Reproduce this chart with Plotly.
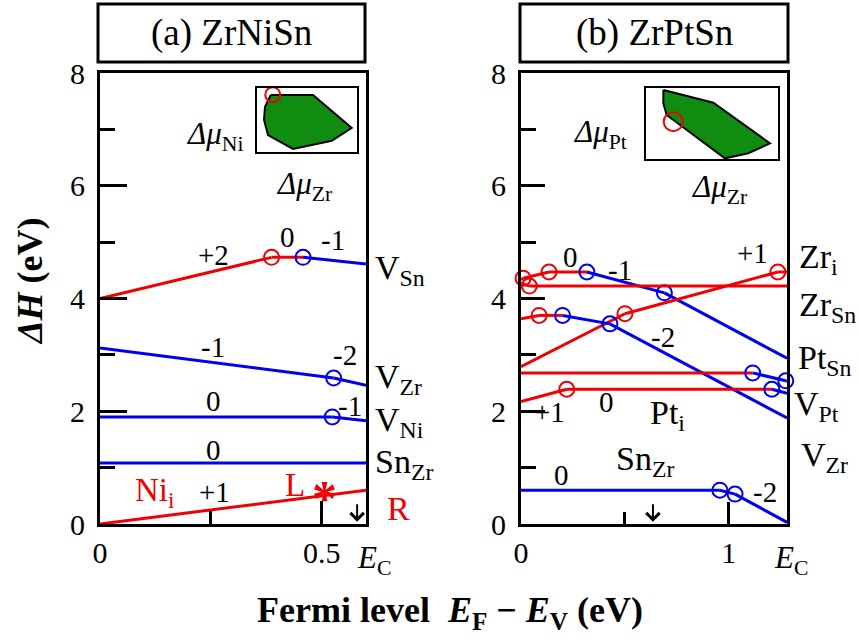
import plotly.graph_objects as go

RED = "rgb(240,0,0)"
BLUE = "rgb(0,0,240)"
GREEN = "rgb(16,140,16)"
SERIF = "Liberation Serif, Times New Roman, DejaVu Serif, serif"
COL = {"r": RED, "b": BLUE}

# ---------------- (a) ZrNiSn : formation energies vs Fermi level ----------------
a_xmax = 0.60
a_vsn_x = [0.0, 0.387, 0.458, 0.60]
a_vsn_y = [4.00, 4.73, 4.73, 4.61]
a_vsn_c = ["r", "r", "b"]
a_vzr_x = [0.0, 0.527, 0.60]
a_vzr_y = [3.12, 2.59, 2.46]
a_vzr_c = ["b", "b"]
a_vni_x = [0.0, 0.524, 0.60]
a_vni_y = [1.90, 1.90, 1.83]
a_vni_c = ["b", "b"]
a_snzr_x = [0.0, 0.60]
a_snzr_y = [1.08, 1.08]
a_snzr_c = ["b"]
a_nii_x = [0.0, 0.60]
a_nii_y = [0.00, 0.60]
a_nii_c = ["r"]
a_R_x = [0.62]
a_R_y = [0.61]
a_arrow_x = 0.58

# ---------------- (b) ZrPtSn ----------------
b_xmax = 1.28
b_ptsn_x = [0.0, 0.010, 0.135, 0.317, 0.690, 1.28]
b_ptsn_y = [4.33, 4.36, 4.47, 4.47, 4.10, 2.94]
b_ptsn_c = ["r", "r", "r", "b", "b"]
b_zrsn_x = [0.0, 0.040, 1.28]
b_zrsn_y = [4.27, 4.22, 4.22]
b_zrsn_c = ["r", "r"]
b_zri_x = [0.0, 0.500, 1.236, 1.28]
b_zri_y = [2.79, 3.73, 4.47, 4.47]
b_zri_c = ["r", "r", "r"]
b_vzr_x = [0.0, 0.087, 0.200, 0.428, 1.28]
b_vzr_y = [3.64, 3.70, 3.70, 3.55, 1.88]
b_vzr_c = ["r", "r", "b", "b"]
b_vpt_x = [0.0, 1.115, 1.274, 1.28]
b_vpt_y = [2.68, 2.68, 2.54, 2.53]
b_vpt_c = ["r", "b", "b"]
b_pti_x = [0.0, 0.220, 1.207, 1.28]
b_pti_y = [2.17, 2.39, 2.39, 2.32]
b_pti_c = ["r", "r", "b"]
b_snzr_x = [0.0, 0.957, 1.030, 1.28]
b_snzr_y = [0.60, 0.60, 0.53, 0.03]
b_snzr_c = ["b", "b", "b"]
b_arrow_x = 0.635

# chemical-potential stability polygons (normalised inset coordinates)
ins_a_u = [0.14, 0.561, 0.947, 0.748, 0.362, 0.113, 0.073, 0.083, 0.14]
ins_a_v = [0.894, 0.894, 0.374, 0.173, 0.043, 0.263, 0.50, 0.71, 0.894]
ins_a_pt = ([0.16], [0.90])
ins_b_u = [0.131, 0.509, 0.937, 0.773, 0.597, 0.156, 0.131, 0.131]
ins_b_v = [0.976, 0.797, 0.225, 0.085, 0.014, 0.624, 0.789, 0.976]
ins_b_pt = ([0.206], [0.53])

W, H = 859, 640
fig = go.Figure()


def add_defect(xs, ys, cs, xa, ya):
    for i, c in enumerate(cs):
        fig.add_trace(go.Scatter(x=xs[i:i + 2], y=ys[i:i + 2], mode="lines",
                                 line=dict(color=COL[c], width=3),
                                 xaxis=xa, yaxis=ya, showlegend=False,
                                 hoverinfo="skip"))
    for i in range(1, len(xs) - 1):
        fig.add_trace(go.Scatter(x=[xs[i]], y=[ys[i]], mode="markers",
                                 marker=dict(symbol="circle-open", size=15,
                                             color=COL[cs[i]], line=dict(width=2)),
                                 xaxis=xa, yaxis=ya, showlegend=False,
                                 hoverinfo="skip", cliponaxis=False))


for xs, ys, cs in [(a_vsn_x, a_vsn_y, a_vsn_c), (a_vzr_x, a_vzr_y, a_vzr_c),
                   (a_vni_x, a_vni_y, a_vni_c), (a_snzr_x, a_snzr_y, a_snzr_c),
                   (a_nii_x, a_nii_y, a_nii_c)]:
    add_defect(xs, ys, cs, "x", "y")

fig.add_trace(go.Scatter(x=a_R_x, y=a_R_y, mode="markers",
                         marker=dict(symbol="circle", size=16, color=RED),
                         xaxis="x", yaxis="y", showlegend=False, cliponaxis=False))

for xs, ys, cs in [(b_ptsn_x, b_ptsn_y, b_ptsn_c), (b_zrsn_x, b_zrsn_y, b_zrsn_c),
                   (b_zri_x, b_zri_y, b_zri_c), (b_vzr_x, b_vzr_y, b_vzr_c),
                   (b_vpt_x, b_vpt_y, b_vpt_c), (b_pti_x, b_pti_y, b_pti_c),
                   (b_snzr_x, b_snzr_y, b_snzr_c)]:
    add_defect(xs, ys, cs, "x2", "y2")

# insets
for u, v, pt, xa, ya, d in [(ins_a_u, ins_a_v, ins_a_pt, "x3", "y3", 15),
                            (ins_b_u, ins_b_v, ins_b_pt, "x4", "y4", 19)]:
    fig.add_trace(go.Scatter(x=u, y=v, mode="lines", fill="toself",
                             fillcolor=GREEN, line=dict(color="black", width=2),
                             xaxis=xa, yaxis=ya, showlegend=False))
    fig.add_trace(go.Scatter(x=pt[0], y=pt[1], mode="markers",
                             marker=dict(symbol="circle-open", size=d, color=RED,
                                         line=dict(width=2)),
                             xaxis=xa, yaxis=ya, showlegend=False, cliponaxis=False))

ydom = [1 - 524 / H, 1 - 73 / H]
ax_common = dict(showline=True, linecolor="black", linewidth=3, mirror=True,
                 showgrid=False, zeroline=False, ticks="inside", tickcolor="black",
                 tickwidth=2.5, automargin=False,
                 tickfont=dict(family=SERIF, size=30, color="black"))
inset_ax = dict(range=[0, 1], showline=True, mirror=True, linecolor="black",
                linewidth=2, showticklabels=False, ticks="", showgrid=False,
                zeroline=False, automargin=False)

fig.update_layout(
    width=W, height=H, autosize=False,
    margin=dict(l=0, r=0, t=0, b=0, pad=0, autoexpand=False),
    plot_bgcolor="white", paper_bgcolor="white", showlegend=False,
    xaxis=dict(domain=[100 / W, 366 / W], range=[0, a_xmax], tickvals=[0, 0.5],
               ticktext=["0", "0.5"], ticklen=23,
               minor=dict(ticks="inside", ticklen=13, dtick=0.25, tickwidth=2.5,
                          tickcolor="black"),
               ticklabelstandoff=0, anchor="y", **ax_common),
    yaxis=dict(domain=ydom, range=[0, 8], dtick=2, ticklen=27,
               minor=dict(ticks="inside", ticklen=15, dtick=1, tickwidth=2.5,
                          tickcolor="black"),
               ticklabelstandoff=6, anchor="x", **ax_common),
    xaxis2=dict(domain=[521 / W, 787 / W], range=[0, b_xmax], tickvals=[0, 1],
                ticktext=["0", "1"], ticklen=22,
                minor=dict(ticks="inside", ticklen=12, dtick=0.5, tickwidth=2.5,
                           tickcolor="black"),
                ticklabelstandoff=0, anchor="y2", **ax_common),
    yaxis2=dict(domain=ydom, range=[0, 8], dtick=2, ticklen=24,
                minor=dict(ticks="inside", ticklen=15, dtick=1, tickwidth=2.5,
                           tickcolor="black"),
                ticklabelstandoff=6, anchor="x2", **ax_common),
    xaxis3=dict(domain=[256.7 / W, 357 / W], anchor="y3", **inset_ax),
    yaxis3=dict(domain=[1 - 151.7 / H, 1 - 88.3 / H], anchor="x3", **inset_ax),
    xaxis4=dict(domain=[646 / W, 778.3 / W], anchor="y4", **inset_ax),
    yaxis4=dict(domain=[1 - 159.3 / H, 1 - 88.3 / H], anchor="x4", **inset_ax),
)


def plabel(text, px, py, size=29, color="black", xanchor="center", angle=0):
    """Text placed by pixel position on the page."""
    fig.add_annotation(text=text, xref="paper", yref="paper", x=px / W, y=1 - py / H,
                       xanchor=xanchor, yanchor="middle", showarrow=False,
                       textangle=angle,
                       font=dict(family=SERIF, size=size, color=color))


def label(text, x, y, xa, ya, size=29, color="black", xanchor="center"):
    """Text placed in data coordinates of a panel."""
    fig.add_annotation(text=text, x=x, y=y, xref=xa, yref=ya, showarrow=False,
                       xanchor=xanchor, yanchor="middle",
                       font=dict(family=SERIF, size=size, color=color))


def down_arrow(x, xa, ya):
    """Small downward arrow sitting on the bottom axis."""
    fig.add_annotation(text="", x=x, y=0.04, xref=xa, yref=ya, showarrow=True,
                       ax=0, ay=-19, arrowhead=4, arrowsize=1.3, arrowwidth=2,
                       arrowcolor="black")


# panel title boxes
for x0, x1, title in [(98, 365, "(a) ZrNiSn"), (520, 788, "(b) ZrPtSn")]:
    fig.add_shape(type="rect", xref="paper", yref="paper",
                  x0=x0 / W, x1=x1 / W, y0=1 - 62 / H, y1=1 - 4 / H,
                  line=dict(color="black", width=3))
    plabel(title, (x0 + x1) / 2, 33, size=37)

# charge-state labels, panel (a)
for t, x, y in [("+2", 0.255, 4.77), ("0", 0.423, 5.09), ("-1", 0.525, 5.04),
                ("-1", 0.255, 3.14), ("-2", 0.552, 3.00), ("0", 0.255, 2.18),
                ("-1", 0.563, 2.09), ("0", 0.255, 1.31), ("+1", 0.259, 0.57)]:
    label(t, x, y, "x", "y")

# defect names, panel (a)
for t, py in [("V<sub>Sn</sub>", 270), ("V<sub>Zr</sub>", 379),
              ("V<sub>Ni</sub>", 422), ("Sn<sub>Zr</sub>", 464)]:
    plabel(t, 373, py, size=34, xanchor="left")
label("Ni<sub>i</sub>", 0.074, 0.55, "x", "y", size=33, color=RED, xanchor="left")
label("L", 0.439, 0.69, "x", "y", size=33, color=RED)
label("<b>*</b>", 0.507, 0.46, "x", "y", size=50, color=RED)
plabel("R", 398, 508, size=34, color=RED)
plabel("<i>E</i><sub>C</sub>", 355, 560, size=31, xanchor="left")
down_arrow(a_arrow_x, "x", "y")

# charge-state labels, panel (b)
for t, x, y in [("0", 0.236, 4.73), ("-1", 0.476, 4.50), ("+1", 1.115, 4.80),
                ("-2", 0.683, 3.32), ("+1", 0.139, 1.99), ("0", 0.413, 2.16),
                ("0", 0.197, 0.87), ("-2", 1.173, 0.57)]:
    label(t, x, y, "x2", "y2")

# defect names, panel (b)
for t, px, py in [("Zr<sub>i</sub>", 797, 259), ("Zr<sub>Sn</sub>", 797, 307),
                  ("Pt<sub>Sn</sub>", 796, 360), ("V<sub>Pt</sub>", 792, 406),
                  ("V<sub>Zr</sub>", 799, 457)]:
    plabel(t, px, py, size=34, xanchor="left")
label("Pt<sub>i</sub>", 0.61, 1.93, "x2", "y2", size=34, xanchor="left")
label("Sn<sub>Zr</sub>", 0.447, 1.11, "x2", "y2", size=34, xanchor="left")
plabel("<i>E</i><sub>C</sub>", 772, 560, size=31, xanchor="left")
down_arrow(b_arrow_x, "x2", "y2")

# inset axis labels
for t, px, py in [("<i>Δμ</i><sub>Ni</sub>", 184, 136), ("<i>Δμ</i><sub>Zr</sub>", 274, 186),
                  ("<i>Δμ</i><sub>Pt</sub>", 571, 134), ("<i>Δμ</i><sub>Zr</sub>", 689, 189)]:
    plabel(t, px, py, size=31, xanchor="left")

# axis titles
plabel("<b><i>ΔH</i> (eV)</b>", 30, 281, size=36, angle=-90)
plabel("<b>Fermi level  <i>E</i><sub>F</sub> − <i>E</i><sub>V</sub> (eV)</b>",
       450, 612, size=36)

fig.write_html("out.html")
